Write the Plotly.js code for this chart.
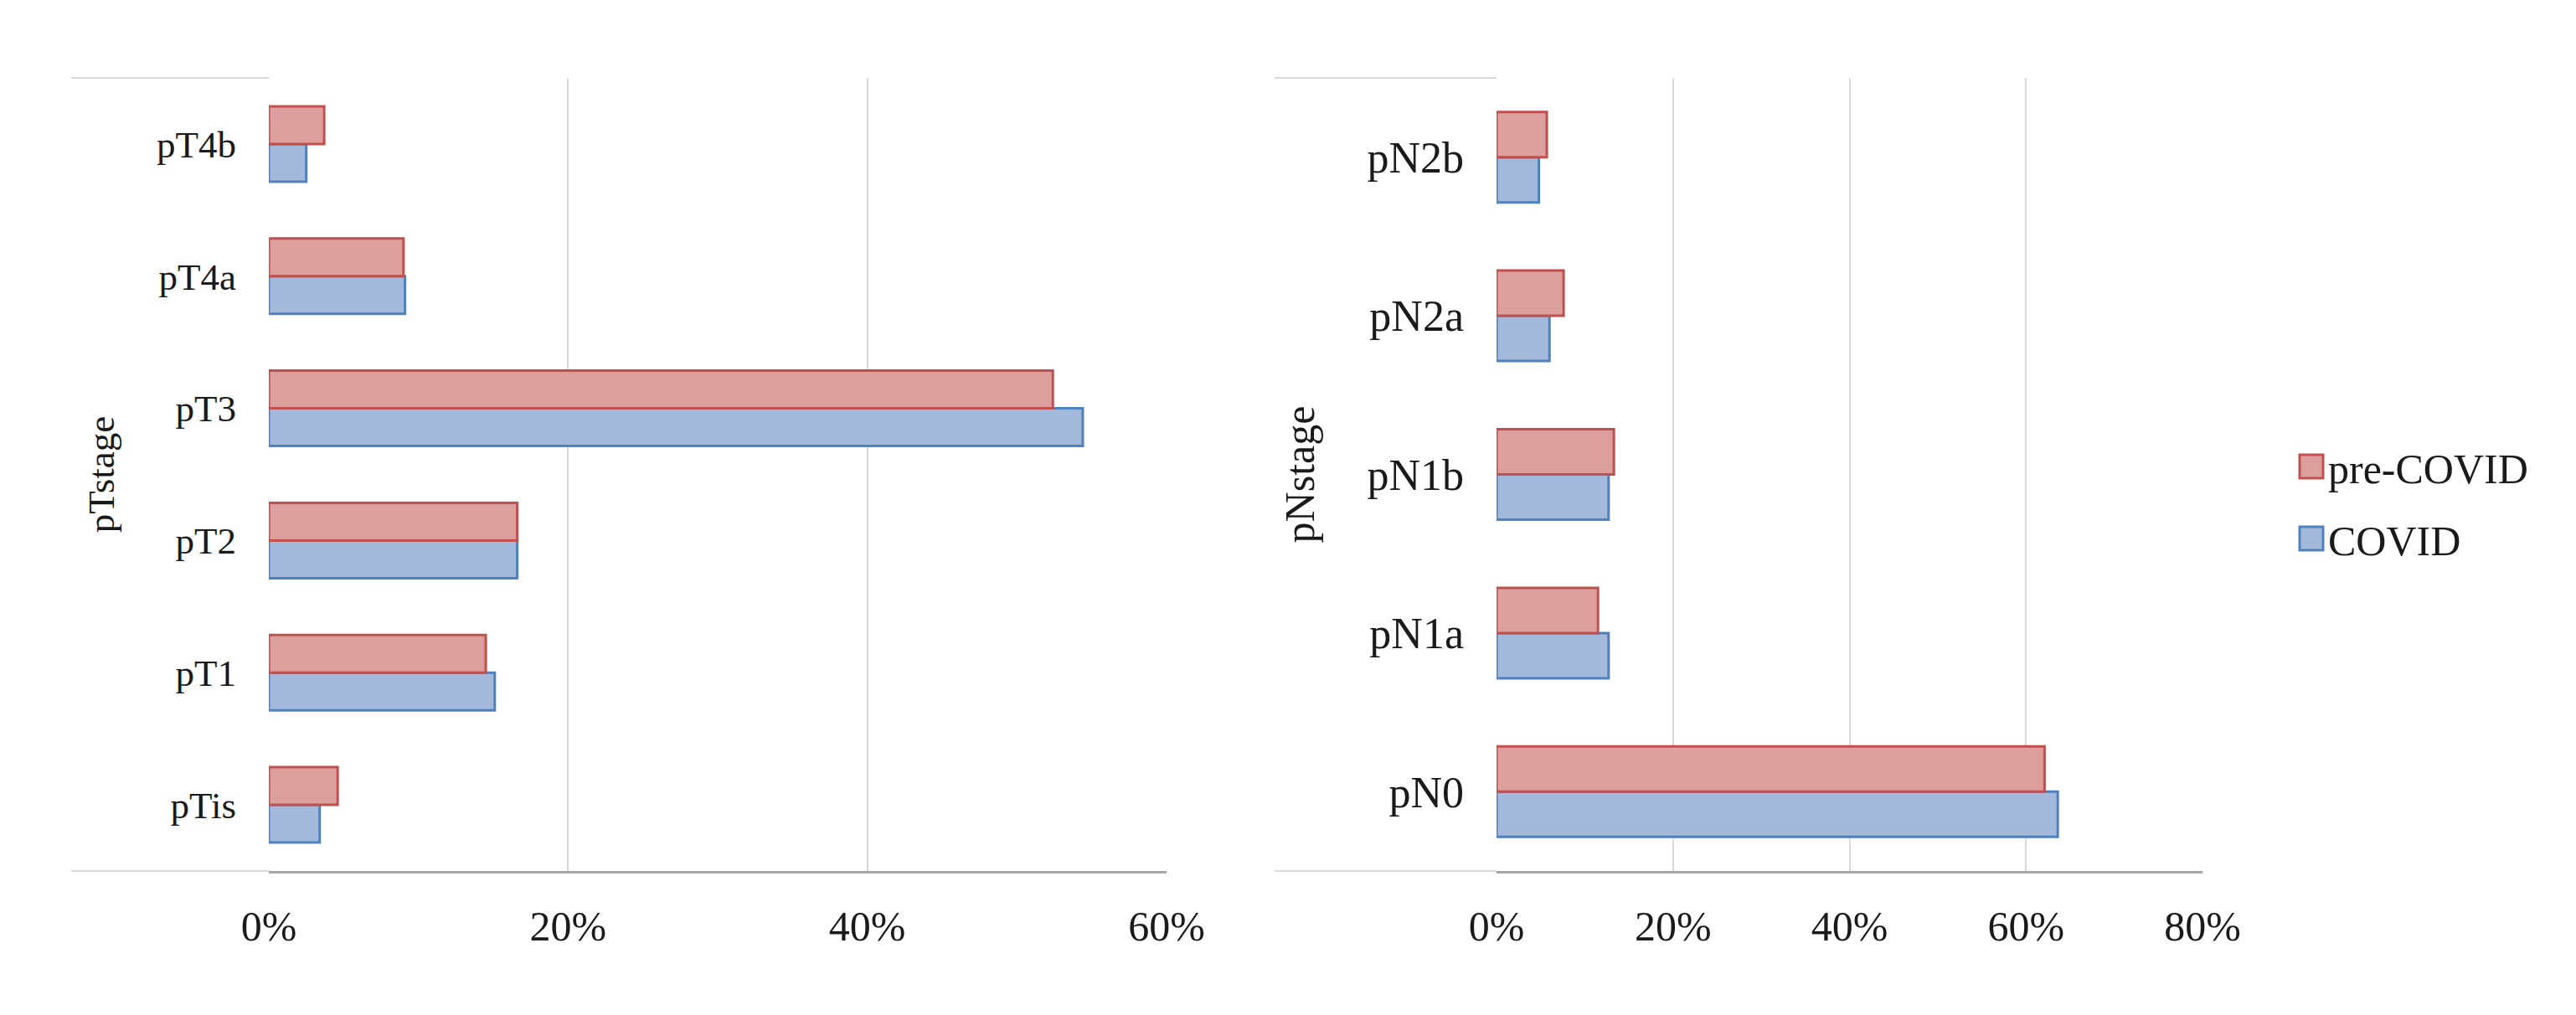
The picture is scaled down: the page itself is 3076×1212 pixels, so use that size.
<!DOCTYPE html>
<html>
<head>
<meta charset="utf-8">
<script src="https://cdn.plot.ly/plotly-3.0.1.min.js"></script>
<style>html,body{margin:0;padding:0;background:#fff;}#chart{width:3076px;height:1212px;}</style>
</head>
<body>
<div id="chart"></div>
<script>
// ---- data (percent) ----
var tCategories = ['pTis', 'pT1', 'pT2', 'pT3', 'pT4a', 'pT4b'];
var tPreCovid   = [4.6, 14.5, 16.6, 52.4, 9.0, 3.7];
var tCovid      = [3.4, 15.1, 16.6, 54.4, 9.1, 2.5];

var nCategories = ['pN0', 'pN1a', 'pN1b', 'pN2a', 'pN2b'];
var nPreCovid   = [62.1, 11.5, 13.3, 7.6, 5.7];
var nCovid      = [63.6, 12.7, 12.7, 6.0, 4.8];

var seriesNames = ['COVID', 'pre-COVID'];
var xTicksT = [0, 20, 40, 60];
var xTicksN = [0, 20, 40, 60, 80];

// ---- styling ----
var W = 3076, H = 1212;
function px(x) { return x / W; }
function py(y) { return 1 - y / H; }
var FONT = 'Liberation Serif, Times New Roman, serif';
var blueFill = '#a2b9dc', blueLine = '#4f81bd';
var redFill = '#dc9f9e', redLine = '#c0504d';

function bar(x, y, name, fill, line, xa, ya, show, rank) {
  return {
    type: 'bar', orientation: 'h', x: x, y: y, name: name,
    xaxis: xa, yaxis: ya, legendgroup: name, showlegend: show, legendrank: rank,
    marker: {color: fill, line: {color: line, width: 3}},
    hoverinfo: 'skip'
  };
}

var data = [
  bar(tCovid, tCategories, seriesNames[0], blueFill, blueLine, 'x', 'y', true, 2),
  bar(tPreCovid, tCategories, seriesNames[1], redFill, redLine, 'x', 'y', true, 1),
  bar(nCovid, nCategories, seriesNames[0], blueFill, blueLine, 'x2', 'y2', false, 2),
  bar(nPreCovid, nCategories, seriesNames[1], redFill, redLine, 'x2', 'y2', false, 1)
];

var gridColor = '#d9d9d9';
var txtColor = '#1a1a1a';

function xAxis(domain, ticks, range, anchor) {
  return {
    domain: domain, anchor: anchor, range: range, autorange: false,
    tickvals: ticks, ticktext: ticks.map(function (v) { return v + '%'; }),
    showgrid: true, gridcolor: gridColor, gridwidth: 2, zeroline: false,
    showline: true, linecolor: '#a6a6a6', linewidth: 3,
    ticks: '', ticklabelstandoff: 20, tickfont: {family: FONT, size: 50, color: txtColor},
    fixedrange: true
  };
}
function yAxis(cats, title, anchor, catSize, titleSize, standoff) {
  return {
    domain: [py(1040), py(93)], anchor: anchor, type: 'category',
    categoryorder: 'array', categoryarray: cats,
    showgrid: false, zeroline: false, showline: false,
    ticks: '', ticklabelstandoff: 38, tickfont: {family: FONT, size: catSize, color: txtColor},
    fixedrange: true,
    title: {text: title, font: {family: FONT, size: titleSize, color: txtColor}, standoff: standoff}
  };
}

var lineShape = function (x0, y0, x1, y1) {
  return {type: 'line', xref: 'paper', yref: 'paper', x0: px(x0), y0: py(y0), x1: px(x1), y1: py(y1),
          line: {color: gridColor, width: 2}};
};

var layout = {
  width: W, height: H,
  margin: {l: 0, r: 0, t: 0, b: 0},
  paper_bgcolor: '#ffffff', plot_bgcolor: '#ffffff',
  font: {family: FONT, color: txtColor},
  barmode: 'group', bargap: 0.43, bargroupgap: 0,
  xaxis: xAxis([px(321), px(1393)], xTicksT, [0, 60], 'y'),
  yaxis: yAxis(tCategories, 'pTstage', 'x', 45, 45, 36),
  xaxis2: xAxis([px(1787), px(2630)], xTicksN, [0, 80], 'y2'),
  yaxis2: yAxis(nCategories, 'pNstage', 'x2', 52, 50, 46),
  showlegend: true,
  legend: {
    x: px(2740), xanchor: 'left', y: py(600), yanchor: 'middle',
    traceorder: 'grouped', tracegroupgap: 18,
    font: {family: FONT, size: 50, color: txtColor},
    bgcolor: 'rgba(0,0,0,0)', borderwidth: 0, itemwidth: 30
  },
  shapes: [
    lineShape(85, 93, 321, 93),
    lineShape(85, 1040, 321, 1040),
    lineShape(1522, 93, 1787, 93),
    lineShape(1522, 1040, 1787, 1040)
  ]
};

Plotly.newPlot('chart', data, layout, {displayModeBar: false, staticPlot: true}).then(function (gd) {
  var paths = gd.querySelectorAll('.legend .legendpoints path');
  paths.forEach(function (p) { p.setAttribute('d', 'M14,14H-14V-14H14Z'); });
});
</script>
</body>
</html>
